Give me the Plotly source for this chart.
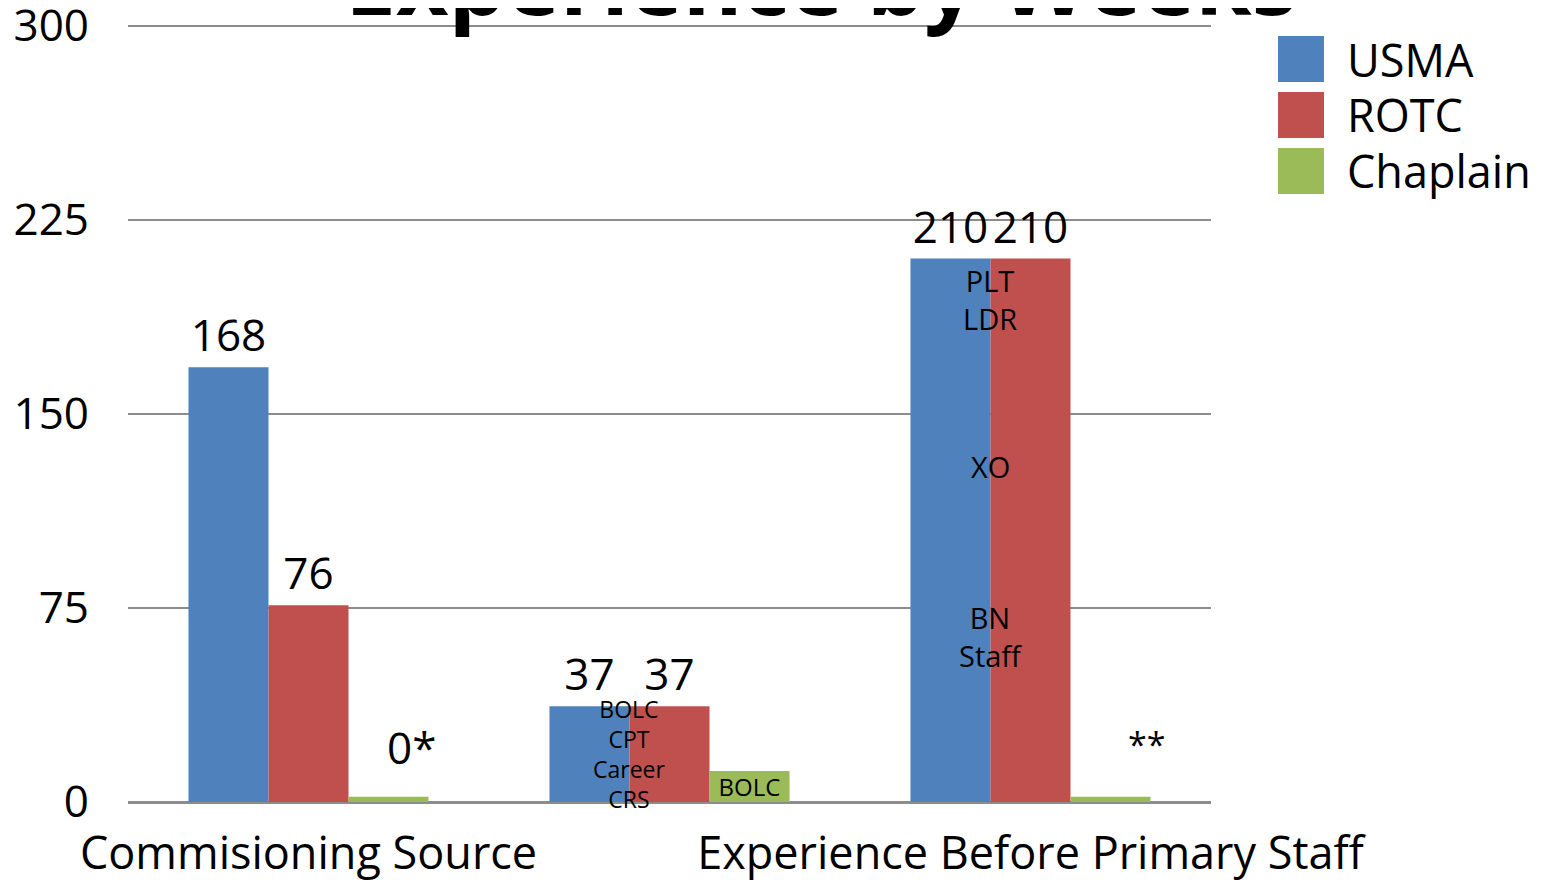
import plotly.graph_objects as go

# ---- data ----
categories = ["Commisioning Source", " ", "Experience Before Primary Staff"]
series_names = ["USMA", "ROTC", "Chaplain"]
usma = [168, 37, 210]
rotc = [76, 37, 210]
chaplain = [2, 12, 2]
usma_labels = ["168", "37", "210"]
rotc_labels = ["76", "37", "210"]
chaplain_labels = ["0*", "BOLC", "**"]
colors = ["#4F81BD", "#C0504D", "#9BBB59"]
y_ticks = [0, 75, 150, 225, 300]

# in-bar notes (category index, y value, text)
note_cat = [1, 2, 2, 2]
note_y = [18.5, 194, 129.5, 64]
note_text = ["BOLC<br>CPT<br>Career<br>CRS", "PLT<br>LDR", "XO", "BN<br>Staff"]
note_size = [23, 29, 29, 29]

title_text = "Experience by Weeks"

FONT = "Open Sans, Noto Sans, sans-serif"
BARGAP = 0.335
bar_w = (1 - BARGAP) / 3

x = list(range(len(categories)))
fig = go.Figure()
fig.add_trace(go.Bar(
    x=x, y=usma, name=series_names[0], marker=dict(color=colors[0], line=dict(width=0)),
    text=usma_labels, textposition="outside",
    outsidetextfont=dict(family=FONT, size=44, color="black"),
    constraintext="none", cliponaxis=False, showlegend=False))
fig.add_trace(go.Bar(
    x=x, y=rotc, name=series_names[1], marker=dict(color=colors[1], line=dict(width=0)),
    text=rotc_labels, textposition="outside",
    outsidetextfont=dict(family=FONT, size=44, color="black"),
    constraintext="none", cliponaxis=False, showlegend=False))
# chaplain: only the in-bar label is drawn as bar text; others as offset annotations
chap_text = [t if i == 1 else "" for i, t in enumerate(chaplain_labels)]
fig.add_trace(go.Bar(
    x=x, y=chaplain, name=series_names[2], marker=dict(color=colors[2], line=dict(width=0)),
    text=chap_text, textposition="inside", insidetextanchor="middle",
    insidetextfont=dict(family=FONT, size=24, color="black"),
    constraintext="none", cliponaxis=False, showlegend=False))

annotations = []
chap_shift = {0: (23, 18, 44), 2: (36, 28, 34)}
for i, (shx, shy, sz) in chap_shift.items():
    annotations.append(dict(x=x[i] + bar_w, y=chaplain[i], xref="x", yref="y",
                            text=chaplain_labels[i], showarrow=False,
                            xanchor="center", yanchor="bottom", xshift=shx, yshift=shy,
                            font=dict(family=FONT, size=sz, color="black")))

for c, yv, t, s in zip(note_cat, note_y, note_text, note_size):
    annotations.append(dict(x=c - bar_w / 2, y=yv, xref="x", yref="y", text=t,
                            showarrow=False, font=dict(family=FONT, size=s, color="black"),
                            xanchor="center", yanchor="middle"))

# title (partially cut at top as in reference)
annotations.append(dict(x=0.64, y=1, xref="paper", yref="paper", text="<b>" + title_text + "</b>",
                        showarrow=False, xanchor="center", yanchor="bottom", yshift=-21,
                        font=dict(family=FONT, size=91, color="black")))

# manual legend (page-pixel layout converted to paper units)
PLOT_LEFT, PLOT_W = 128, 1083
PLOT_BOTTOM, PLOT_H = 802, 779
def px_x(p):
    return (p - PLOT_LEFT) / PLOT_W
def px_y(p):
    return (PLOT_BOTTOM - p) / PLOT_H

shapes = []
row_gap = 56
sw_size = 46
for i, (name, col) in enumerate(zip(series_names, colors)):
    top = 36 + i * row_gap
    shapes.append(dict(type="rect", xref="paper", yref="paper", x0=px_x(1278), x1=px_x(1278 + sw_size),
                       y0=px_y(top + sw_size), y1=px_y(top), fillcolor=col, line=dict(width=0)))
    annotations.append(dict(x=px_x(1345), y=px_y(top + sw_size / 2), xref="paper", yref="paper",
                            text=name, showarrow=False, xanchor="left", yanchor="middle",
                            font=dict(family=FONT, size=45, color="black")))

fig.update_layout(
    width=1533, height=872,
    margin=dict(l=120, r=330, t=15, b=78, autoexpand=False),
    paper_bgcolor="white", plot_bgcolor="white",
    barmode="group", bargap=BARGAP, bargroupgap=0,
    showlegend=False,
    annotations=annotations, shapes=shapes,
    font=dict(family=FONT, color="black"),
    xaxis=dict(tickvals=x, ticktext=categories, range=[-0.5, 2.5],
               tickfont=dict(family=FONT, size=45, color="black"),
               showgrid=False, showline=False, zeroline=False, ticks="",
               ticklabelstandoff=21, automargin=False, ticklabeloverflow="allow"),
    yaxis=dict(range=[0, 301], tickvals=y_ticks, ticktext=[str(v) for v in y_ticks],
               tickfont=dict(family=FONT, size=44, color="black"),
               showgrid=True, gridcolor="#8c8c8c", gridwidth=2,
               zeroline=True, zerolinecolor="#8c8c8c", zerolinewidth=3,
               showline=False, ticks="", ticklabelstandoff=38,
               automargin=False, ticklabeloverflow="allow"),
)

fig.write_html("out.html")
